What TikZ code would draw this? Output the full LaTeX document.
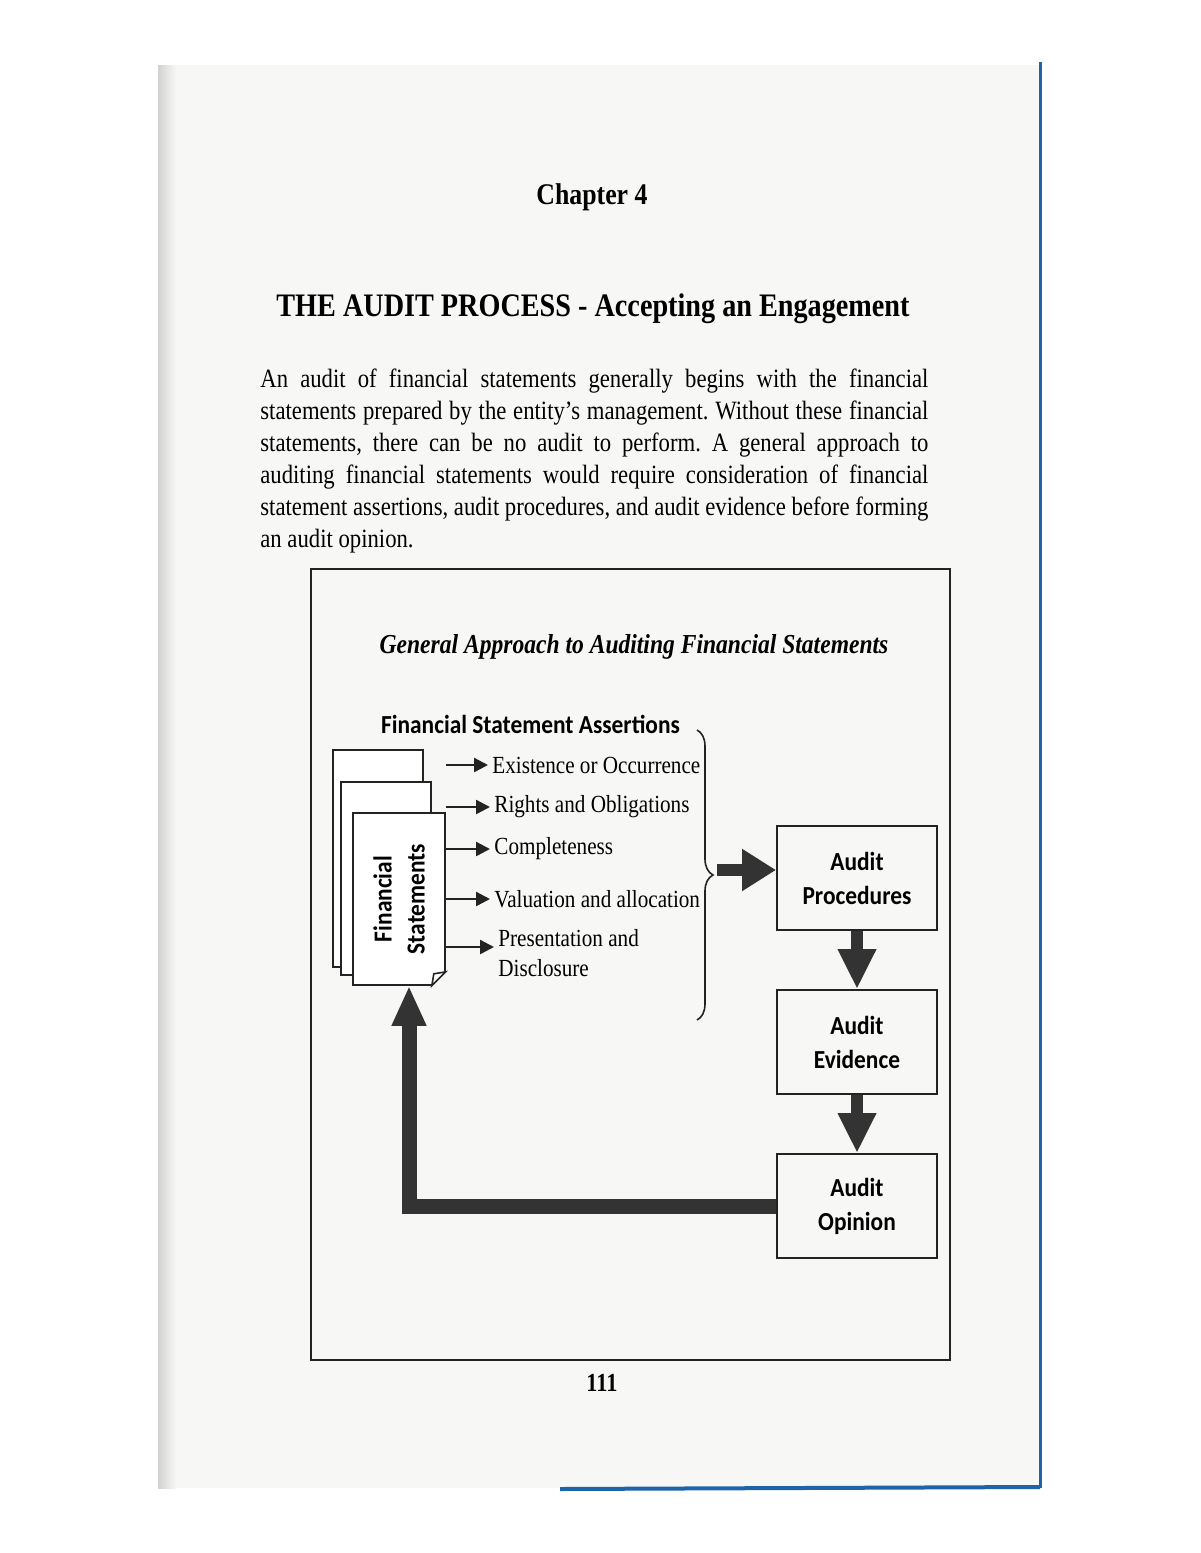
\documentclass[tikz,border=0pt]{standalone}
\usepackage{fontspec}
\setmainfont{Liberation Serif}[FakeStretch=0.86]
\newfontfamily\calibri{Carlito}[FakeStretch=0.9]
\usetikzlibrary{arrows.meta,positioning,decorations.pathreplacing}
\definecolor{pagegray}{RGB}{247,247,246}
\definecolor{scanblue}{RGB}{30,100,170}
\definecolor{ink}{RGB}{35,35,35}
\frenchspacing

\begin{document}
\begin{tikzpicture}[x=0.5pt,y=-0.5pt,node distance=82pt,on grid,
    stepbox/.style={draw=ink,line width=1pt,fill=pagegray,minimum width=80pt,minimum height=52pt,
      align=center,font=\calibri\bfseries\fontsize{13}{17}\selectfont},
    item/.style={anchor=west,inner sep=2pt,align=left,font=\fontsize{12.3}{15}\selectfont},
    small/.style={-{Triangle[length=7pt,width=7pt]},line width=1.2pt,ink},
    fat/.style={-{Triangle[length=20pt,width=18pt]},line width=6pt,black!80},
    sheet/.style={draw=ink,line width=0.8pt,fill=white}]
  \useasboundingbox (0,0) rectangle (1200,1553);
  % scanned page
  \fill[pagegray] (158,65) rectangle (1040,1488);
  \shade[left color=gray!35,right color=pagegray] (158,65) rectangle (176,1488);
  \draw[scanblue,line width=1.5pt] (1040,62) -- (1040,1488);
  \draw[scanblue,line width=2pt] (560,1489) -- (1040,1487);

  % heading and text
  \node[font=\bfseries\fontsize{15}{18}\selectfont] (chap) at (592,197) {Chapter 4};
  \node[font=\bfseries\fontsize{16.4}{20}\selectfont] (title) at (593,309)
    {THE AUDIT PROCESS - Accepting an Engagement};
  \node[anchor=north west,inner sep=0pt,text width=334pt,align=justify,
    font=\fontsize{13.2}{16}\selectfont] (intro) at (260,369)
    {An audit of financial statements generally begins with the financial\linebreak
     statements prepared by the entity's management. Without these financial\linebreak
     statements, there can be no audit to perform. A general approach to\linebreak
     auditing financial statements would require consideration of financial\linebreak
     statement assertions, audit procedures, and audit evidence before forming\linebreak
     an audit opinion.};

  % diagram
  \draw[ink,line width=1pt] (311,569) rectangle (950,1360);
  \node[font=\bfseries\itshape\fontsize{13.7}{17}\selectfont] (head) at (634,647)
    {General Approach to Auditing Financial Statements};
  \node[anchor=west,font=\calibri\bfseries\fontsize{13}{16}\selectfont] (fsa) at (374,724)
    {Financial Statement Assertions};

  \draw[sheet] (333,750) rectangle (423,967);
  \draw[sheet] (341,782) rectangle (431,975);
  \node[sheet,minimum width=46pt,minimum height=86pt,inner sep=0pt] (fs) at (399,899) {};
  \fill[pagegray] ([yshift=7pt]fs.south east) -- (fs.south east) -- ([xshift=-7pt]fs.south east) -- cycle;
  \draw[ink,line width=0.8pt] ([yshift=7pt]fs.south east) -- ([xshift=-6pt,yshift=6pt]fs.south east)
    -- ([xshift=-7pt]fs.south east) -- cycle;
  \node[rotate=90,align=center,font=\calibri\bfseries\fontsize{13}{16.5}\selectfont] (fslabel)
    at (fs.center) {Financial\\Statements};

  \node[item] (exi) at (488,765) {Existence or Occurrence};
  \node[item] (rig) at (490,807) {Rights and Obligations};
  \node[item] (com) at (490,849) {Completeness};
  \node[item] (val) at (490,899) {Valuation and allocation};
  \node[item] (pre) at (494,953) {Presentation and\\Disclosure};
  \foreach \n in {exi,rig,com,val}
    \draw[small] (\n.west -| fs.east) -- (\n.west);
  \draw[small] ([yshift=3pt]pre.west -| fs.east) -- ([yshift=3pt]pre.west);

  \draw[decorate,decoration={brace,amplitude=8pt},line width=0.8pt,ink] (697,730) -- (697,1020);
  \coordinate (btip) at (717,870);

  \node[stepbox] (proc) at (857,878) {Audit\\Procedures};
  \node[stepbox] (evid) [below=of proc] {Audit\\Evidence};
  \node[stepbox] (opin) [below=of evid] {Audit\\Opinion};

  \draw[fat,-{Triangle[length=17pt,width=20pt]}] (btip) -- (btip -| proc.west);
  \draw[fat] (proc.south) -- (evid.north);
  \draw[fat] (evid.south) -- (opin.north);
  \draw[fat,line width=7.5pt,-{Triangle[length=20pt,width=16pt]}] (opin.west) -| ([xshift=5pt]fs.south);

  \node[font=\bfseries\fontsize{13}{15}\selectfont] (pnum) at (602,1383) {111};
\end{tikzpicture}
\end{document}
